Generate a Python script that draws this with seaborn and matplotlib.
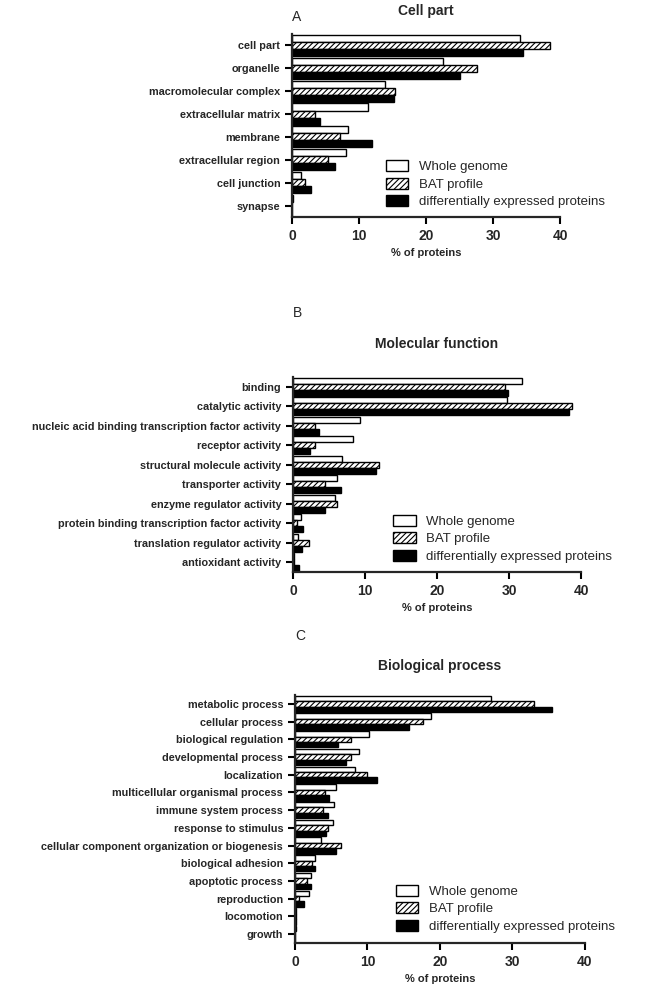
import matplotlib
matplotlib.use("Agg")
import matplotlib.pyplot as plt
from matplotlib.patches import Patch
import numpy as np
import pandas as pd
import seaborn as sns

# series names
series = ["Whole genome", "BAT profile", "differentially expressed proteins"]

# panel A - cell part
cc_terms = ["cell part", "organelle", "macromolecular complex", "extracellular matrix",
            "membrane", "extracellular region", "cell junction", "synapse"]
cc_whole = [34.1, 22.6, 13.9, 11.4, 8.4, 8.0, 1.3, 0.2]
cc_bat = [38.5, 27.6, 15.4, 3.4, 7.2, 5.4, 2.0, 0.0]
cc_diff = [34.4, 25.1, 15.2, 4.2, 11.9, 6.4, 2.9, 0.0]

# panel B - molecular function
mf_terms = ["binding", "catalytic activity", "nucleic acid binding transcription factor activity",
            "receptor activity", "structural molecule activity", "transporter activity",
            "enzyme regulator activity", "protein binding transcription factor activity",
            "translation regulator activity", "antioxidant activity"]
mf_whole = [31.8, 29.7, 9.3, 8.4, 6.8, 6.1, 5.8, 1.1, 0.7, 0.2]
mf_bat = [29.5, 38.8, 3.0, 3.0, 12.0, 4.4, 6.1, 0.6, 2.2, 0.1]
mf_diff = [29.8, 38.3, 3.6, 2.4, 11.5, 6.7, 4.5, 1.4, 1.2, 0.8]

# panel C - biological process
bp_terms = ["metabolic process", "cellular process", "biological regulation",
            "developmental process", "localization", "multicellular organismal process",
            "immune system process", "response to stimulus",
            "cellular component organization or biogenesis", "biological adhesion",
            "apoptotic process", "reproduction", "locomotion", "growth"]
bp_whole = [27.0, 18.8, 10.2, 8.8, 8.3, 5.6, 5.4, 5.2, 3.6, 2.8, 2.2, 1.9, 0.2, 0.1]
bp_bat = [33.0, 17.6, 7.7, 7.7, 9.9, 4.2, 3.9, 4.5, 6.4, 2.3, 1.7, 0.6, 0.1, 0.05]
bp_diff = [35.5, 15.7, 6.0, 7.1, 11.3, 4.7, 4.6, 4.3, 5.6, 2.7, 2.2, 1.2, 0.1, 0.0]

sns.set_style("ticks")
plt.rcParams['font.family'] = ['Liberation Sans', 'DejaVu Sans']
plt.rcParams['hatch.linewidth'] = 0.8


def long_form(terms, whole, bat, diff):
    frames = []
    for name, vals in zip(series, [whole, bat, diff]):
        frames.append(pd.DataFrame({"term": terms, "value": vals, "series": name}))
    return pd.concat(frames, ignore_index=True)


def draw_panel(ax, df, terms, title, letter, title_pad, letter_y):
    sns.barplot(data=df, y="term", x="value", hue="series", order=terms,
                hue_order=series, orient="h", width=0.92, ax=ax,
                legend=False, errorbar=None)
    styles = [("white", ""), ("white", "//////"), ("black", "")]
    for cont, (fc, hatch) in zip(ax.containers, styles):
        for p in cont.patches:
            p.set_facecolor(fc)
            p.set_edgecolor("black")
            p.set_linewidth(1.0)
            p.set_hatch(hatch)
    ax.set_xlim(0, 40)
    ax.set_xticks([0, 10, 20, 30, 40])
    ax.set_ylabel("")
    ax.set_xlabel("% of proteins", fontsize=8, fontweight="bold", labelpad=4)
    for lab in ax.get_yticklabels():
        lab.set_fontweight("bold")
        lab.set_fontsize(7.8)
    for lab in ax.get_xticklabels():
        lab.set_fontweight("bold")
        lab.set_fontsize(10)
    ax.tick_params(axis="both", width=1.5, length=5, color="black")
    sns.despine(ax=ax)
    for s in ["left", "bottom"]:
        ax.spines[s].set_linewidth(1.6)
    ax.set_title(title, fontsize=10, fontweight="bold", pad=title_pad)
    ax.text(0.0, letter_y, letter, transform=ax.transAxes, fontsize=10)
    handles = [Patch(facecolor="white", edgecolor="black", label=series[0]),
               Patch(facecolor="white", edgecolor="black", hatch="//////", label=series[1]),
               Patch(facecolor="black", edgecolor="black", label=series[2])]
    ax.legend(handles=handles, loc="lower left", bbox_to_anchor=(0.33, 0.02),
              frameon=False, fontsize=9.5, handlelength=1.7, handleheight=0.9,
              labelspacing=0.33, borderaxespad=0)


fig = plt.figure(figsize=(6.58, 9.84), dpi=100)
ax_a = fig.add_axes([0.4438, 0.7795, 0.4073, 0.186])
ax_b = fig.add_axes([0.4453, 0.4187, 0.4377, 0.198])
ax_c = fig.add_axes([0.4483, 0.0417, 0.4407, 0.252])

draw_panel(ax_a, long_form(cc_terms, cc_whole, cc_bat, cc_diff), cc_terms,
           "Cell part", "A", 14, 1.07)
draw_panel(ax_b, long_form(mf_terms, mf_whole, mf_bat, mf_diff), mf_terms,
           "Molecular function", "B", 21, 1.31)
draw_panel(ax_c, long_form(bp_terms, bp_whole, bp_bat, bp_diff), bp_terms,
           "Biological process", "C", 18, 1.22)

fig.savefig("out.png", dpi=100)
